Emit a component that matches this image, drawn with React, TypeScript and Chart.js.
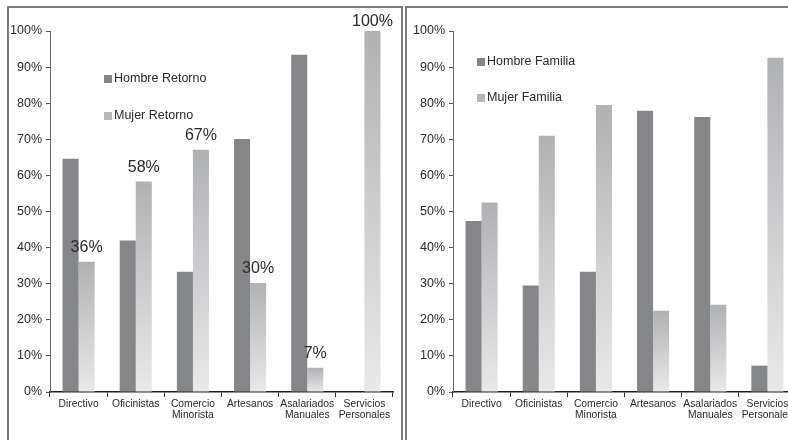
import React, { useEffect, useRef } from 'react';
import { Chart, registerables } from 'chart.js';
Chart.register(...registerables);

const categories = [
  ['Directivo'],
  ['Oficinistas'],
  ['Comercio', 'Minorista'],
  ['Artesanos'],
  ['Asalariados', 'Manuales'],
  ['Servicios', 'Personales'],
];
const hombreRetorno = [64.6, 42.0, 33.3, 70.1, 93.4, 0];
const mujerRetorno = [36.1, 58.3, 67.1, 30.2, 6.7, 100];
const hombreFamilia = [47.4, 29.5, 33.3, 77.9, 76.2, 7.3];
const mujerFamilia = [52.5, 71.0, 79.5, 22.5, 24.2, 92.6];
const yMin = 0;
const yMax = 100;
const yStep = 10;

const FONT = "'Liberation Sans', Arial, Helvetica, sans-serif";
const DARK = '#85868a';
const LIGHT_TOP = '#b0b1b3';
const LIGHT_BOTTOM = '#e9e9ea';
const LIGHT_SWATCH = '#b6b7b9';

const gradientFill = (ctx: any) => {
  const chart = ctx.chart;
  const { chartArea, scales } = chart;
  if (!chartArea || ctx.type !== 'data' || !scales.y) return '#c8c9cb';
  const v = ctx.parsed ? ctx.parsed.y : ctx.raw;
  const yTop = scales.y.getPixelForValue(v);
  const yBot = scales.y.getPixelForValue(0);
  if (!(yBot - yTop > 0.5)) return LIGHT_BOTTOM;
  const g = chart.ctx.createLinearGradient(0, yTop, 0, yBot);
  g.addColorStop(0, LIGHT_TOP);
  g.addColorStop(1, LIGHT_BOTTOM);
  return g;
};

const insideLegend = {
  id: 'insideLegend',
  afterDraw(chart: any, _args: any, opts: any) {
    if (!opts || opts.x == null) return;
    const c = chart.ctx;
    c.save();
    c.font = `12.5px ${FONT}`;
    c.textBaseline = 'middle';
    c.textAlign = 'left';
    chart.data.datasets.forEach((ds: any, i: number) => {
      const y = opts.y + i * opts.step;
      c.fillStyle = opts.colors[i];
      c.fillRect(opts.x, y - 4, 8, 8);
      c.fillStyle = '#2a2a2a';
      c.fillText(ds.label, opts.x + 10, y);
    });
    c.restore();
  },
};

const valueLabels = {
  id: 'valueLabels',
  afterDatasetsDraw(chart: any, _args: any, opts: any) {
    if (!opts || opts.datasetIndex == null) return;
    const meta = chart.getDatasetMeta(opts.datasetIndex);
    const ds = chart.data.datasets[opts.datasetIndex];
    const c = chart.ctx;
    c.save();
    c.font = `16px ${FONT}`;
    c.fillStyle = '#2a2a2a';
    c.textAlign = 'center';
    c.textBaseline = 'alphabetic';
    meta.data.forEach((el: any, i: number) => {
      const v = ds.data[i];
      const y = Math.max(el.y - 10, chart.chartArea.top - 5);
      c.fillText(`${Math.round(v)}%`, el.x, y);
    });
    c.restore();
  },
};

function makeConfig(labels: string[], dark: number[], light: number[], legendOpts: any, withValues: boolean): any {
  return {
    type: 'bar',
    data: {
      labels: categories,
      datasets: [
        { label: labels[0], data: dark, backgroundColor: DARK, borderWidth: 0 },
        { label: labels[1], data: light, backgroundColor: gradientFill, borderWidth: 0 },
      ],
    },
    options: {
      responsive: false,
      animation: false,
      devicePixelRatio: 1,
      categoryPercentage: 32 / 57,
      barPercentage: 1,
      layout: { padding: { left: 0, top: 31, right: 7, bottom: 0 } },
      plugins: {
        legend: { display: false },
        tooltip: { enabled: false },
        title: { display: false },
        insideLegend: legendOpts,
        valueLabels: withValues ? { datasetIndex: 1 } : {},
      },
      scales: {
        x: {
          grid: {
            display: true,
            drawOnChartArea: false,
            drawTicks: true,
            tickLength: 5,
            tickColor: '#333',
            offset: true,
          },
          border: { display: true, color: '#222', width: 1.5 },
          ticks: {
            color: '#2a2a2a',
            font: { family: FONT, size: 10.3, lineHeight: 1.05 },
            padding: 2,
            maxRotation: 0,
            autoSkip: false,
          },
          afterFit: (s: any) => { s.height = 48; },
        },
        y: {
          min: yMin,
          max: yMax,
          grid: {
            display: true,
            drawOnChartArea: false,
            drawTicks: true,
            tickLength: 4,
            tickColor: '#555',
          },
          border: { display: true, color: '#666', width: 1 },
          ticks: {
            stepSize: yStep,
            color: '#2a2a2a',
            font: { family: FONT, size: 12.5 },
            padding: 4,
            callback: (v: any) => `${v}%`,
          },
          afterFit: (s: any) => { s.width = 50; },
        },
      },
    },
    plugins: [insideLegend, valueLabels],
  };
}

function ChartCanvas({ config, left }: { config: any; left: number }) {
  const ref = useRef<HTMLCanvasElement | null>(null);
  useEffect(() => {
    if (!ref.current) return;
    const chart = new Chart(ref.current, config);
    return () => chart.destroy();
  }, [config]);
  return (
    <canvas
      ref={ref}
      width={400}
      height={440}
      style={{ position: 'absolute', left, top: 0, width: 400, height: 440 }}
    />
  );
}

const leftConfig = makeConfig(
  ['Hombre Retorno', 'Mujer Retorno'],
  hombreRetorno,
  mujerRetorno,
  { x: 104, y: 79, step: 37, colors: [DARK, LIGHT_SWATCH] },
  true,
);
const rightConfig = makeConfig(
  ['Hombre Familia', 'Mujer Familia'],
  hombreFamilia,
  mujerFamilia,
  { x: 74, y: 62, step: 36, colors: [DARK, LIGHT_SWATCH] },
  false,
);

export default function App() {
  return (
    <div
      style={{
        position: 'fixed',
        left: 0,
        top: 0,
        width: 788,
        height: 440,
        overflow: 'hidden',
        background: '#fff',
      }}
    >
      <div
        style={{
          position: 'absolute',
          left: 7,
          top: 6,
          width: 392,
          height: 460,
          border: '2px solid #7c7c7c',
        }}
      />
      <div
        style={{
          position: 'absolute',
          left: 405,
          top: 6,
          width: 420,
          height: 460,
          border: '2px solid #7c7c7c',
        }}
      />
      <ChartCanvas config={leftConfig} left={0} />
      <ChartCanvas config={rightConfig} left={403} />
    </div>
  );
}
